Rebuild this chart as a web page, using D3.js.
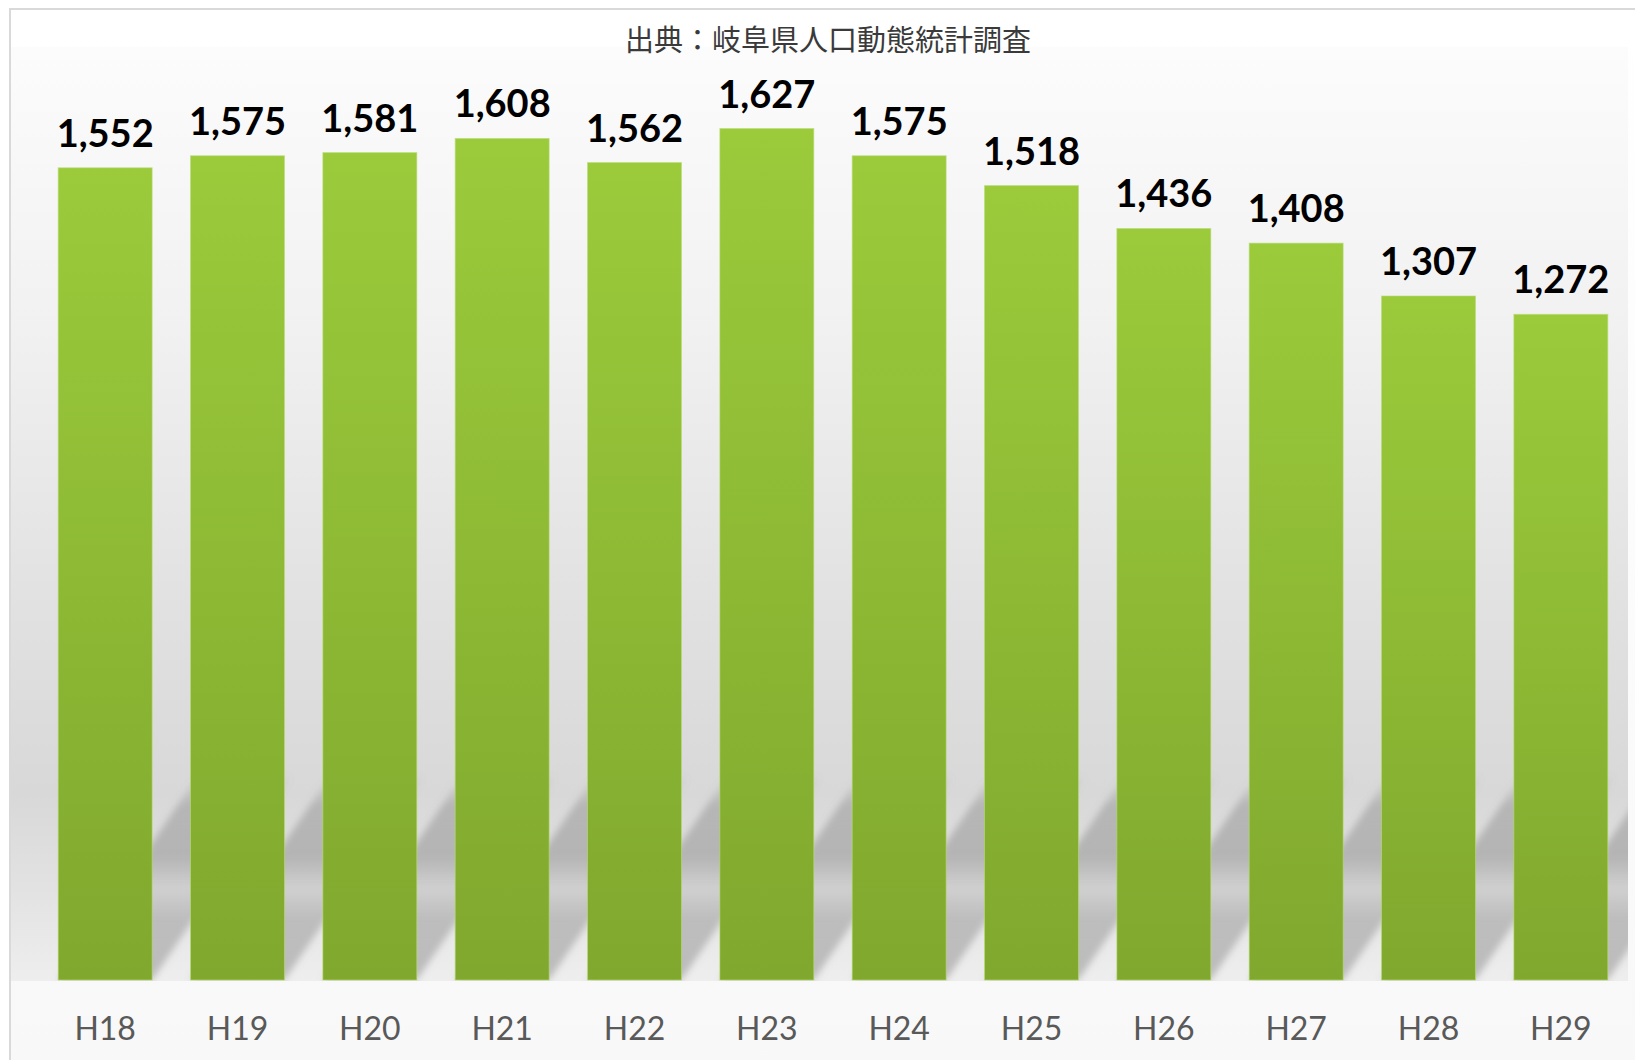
<!DOCTYPE html>
<html>
<head>
<meta charset="utf-8">
<script src="https://cdn.jsdelivr.net/npm/d3@7/dist/d3.min.js"></script>
<style>
  html, body { margin: 0; padding: 0; background: #fff; }
  svg { display: block; }
</style>
</head>
<body>
<svg id="chart" width="1635" height="1060"></svg>
<script>
const categories = ['H18', 'H19', 'H20', 'H21', 'H22', 'H23', 'H24', 'H25', 'H26', 'H27', 'H28', 'H29'];
const values = [1552, 1575, 1581, 1608, 1562, 1627, 1575, 1518, 1436, 1408, 1307, 1272];
const title = '出典：岐阜県人口動態統計調査';

const svg = d3.select('#chart');
const plot = { left: 11, right: 1628, top: 47, bottom: 981 };

const x = d3.scaleBand().domain(categories).range([39, 1627]).paddingInner(0.29).paddingOuter(0.145);
const y = d3.scaleLinear().domain([0, 1800]).range([980, 38]);

const defs = svg.append('defs');

// chart area background
const bgGrad = defs.append('linearGradient').attr('id', 'bgGrad')
  .attr('x1', 0).attr('y1', 0).attr('x2', 0).attr('y2', 1);
bgGrad.append('stop').attr('offset', 0).attr('stop-color', '#ffffff');
bgGrad.append('stop').attr('offset', 1).attr('stop-color', '#f8f8f8');

// plot area gradient
const plotGrad = defs.append('linearGradient').attr('id', 'plotGrad')
  .attr('gradientUnits', 'userSpaceOnUse')
  .attr('x1', 0).attr('y1', plot.top).attr('x2', 0).attr('y2', plot.bottom);
[[0, '#fcfcfc'], [0.3, '#f1f1f1'], [0.6, '#e1e1e1'], [0.8, '#d8d8d8'], [0.9, '#e2e2e2'], [1, '#eeeeee']]
  .forEach(([o, c]) => plotGrad.append('stop').attr('offset', o).attr('stop-color', c));

// bar gradient
const barGrad = defs.append('linearGradient').attr('id', 'barGrad')
  .attr('x1', 0).attr('y1', 0).attr('x2', 0).attr('y2', 1);
barGrad.append('stop').attr('offset', 0).attr('stop-color', '#9bcb3b');
barGrad.append('stop').attr('offset', 1).attr('stop-color', '#80a82e');

// shadow gradient
const shGrad = defs.append('linearGradient').attr('id', 'shGrad')
  .attr('gradientUnits', 'userSpaceOnUse')
  .attr('x1', 0).attr('y1', 980).attr('x2', 0).attr('y2', 775);
[[0, 0.5], [0.3, 0.45], [0.45, 0.2], [0.6, 0.5], [0.85, 0.45], [1, 0]]
  .forEach(([o, a]) => shGrad.append('stop').attr('offset', o).attr('stop-color', '#8a8a8a').attr('stop-opacity', a));

defs.append('filter').attr('id', 'blur').attr('x', '-20%').attr('y', '-20%').attr('width', '140%').attr('height', '140%')
  .append('feGaussianBlur').attr('stdDeviation', 3.5);

defs.append('clipPath').attr('id', 'plotClip')
  .append('rect').attr('x', plot.left).attr('y', plot.top)
  .attr('width', plot.right - plot.left).attr('height', plot.bottom - plot.top);

// chart border
svg.append('rect')
  .attr('x', 10).attr('y', 9).attr('width', 1636).attr('height', 1070)
  .attr('fill', 'url(#bgGrad)').attr('stroke', '#d9d9d9').attr('stroke-width', 2);

svg.append('rect')
  .attr('x', plot.left).attr('y', plot.top)
  .attr('width', plot.right - plot.left).attr('height', plot.bottom - plot.top)
  .attr('fill', 'url(#plotGrad)');

// perspective shadows
const shH = 205, shDx = 140;
svg.append('g').attr('clip-path', 'url(#plotClip)')
  .append('g').attr('filter', 'url(#blur)')
  .selectAll('path')
  .data(categories)
  .enter().append('path')
  .attr('d', d => {
    const x0 = x(d), x1 = x(d) + x.bandwidth(), b = y(0);
    return `M${x0},${b}L${x1},${b}L${x1 + shDx},${b - shH}L${x0 + shDx},${b - shH}Z`;
  })
  .attr('fill', 'url(#shGrad)');

// bars
svg.append('g').selectAll('rect')
  .data(values)
  .enter().append('rect')
  .attr('x', (d, i) => x(categories[i]))
  .attr('y', d => y(d))
  .attr('width', x.bandwidth())
  .attr('height', d => y(0) - y(d))
  .attr('fill', 'url(#barGrad)')
  .attr('stroke', '#b8dc74').attr('stroke-width', 1).attr('stroke-opacity', 0.6);

// value labels
svg.append('g').selectAll('text')
  .data(values)
  .enter().append('text')
  .attr('x', (d, i) => x(categories[i]) + x.bandwidth() / 2)
  .attr('y', d => y(d) - 21)
  .attr('text-anchor', 'middle')
  .attr('font-family', 'Lato, "Open Sans", sans-serif')
  .attr('font-weight', 700)
  .attr('font-size', '38px')
  .attr('fill', '#000')
  .text(d => d3.format(',')(d));

// category labels
svg.append('g').selectAll('text')
  .data(categories)
  .enter().append('text')
  .attr('x', d => x(d) + x.bandwidth() / 2)
  .attr('y', 1040)
  .attr('text-anchor', 'middle')
  .attr('font-family', 'Lato, "Open Sans", sans-serif')
  .attr('font-size', '32px')
  .attr('fill', '#595959')
  .text(d => d);

// title
svg.append('text')
  .attr('x', 828).attr('y', 51)
  .attr('text-anchor', 'middle')
  .attr('font-family', '"Noto Sans CJK JP", sans-serif')
  .attr('font-size', '29px')
  .attr('fill', '#3a3a3a')
  .text(title);
</script>
</body>
</html>
